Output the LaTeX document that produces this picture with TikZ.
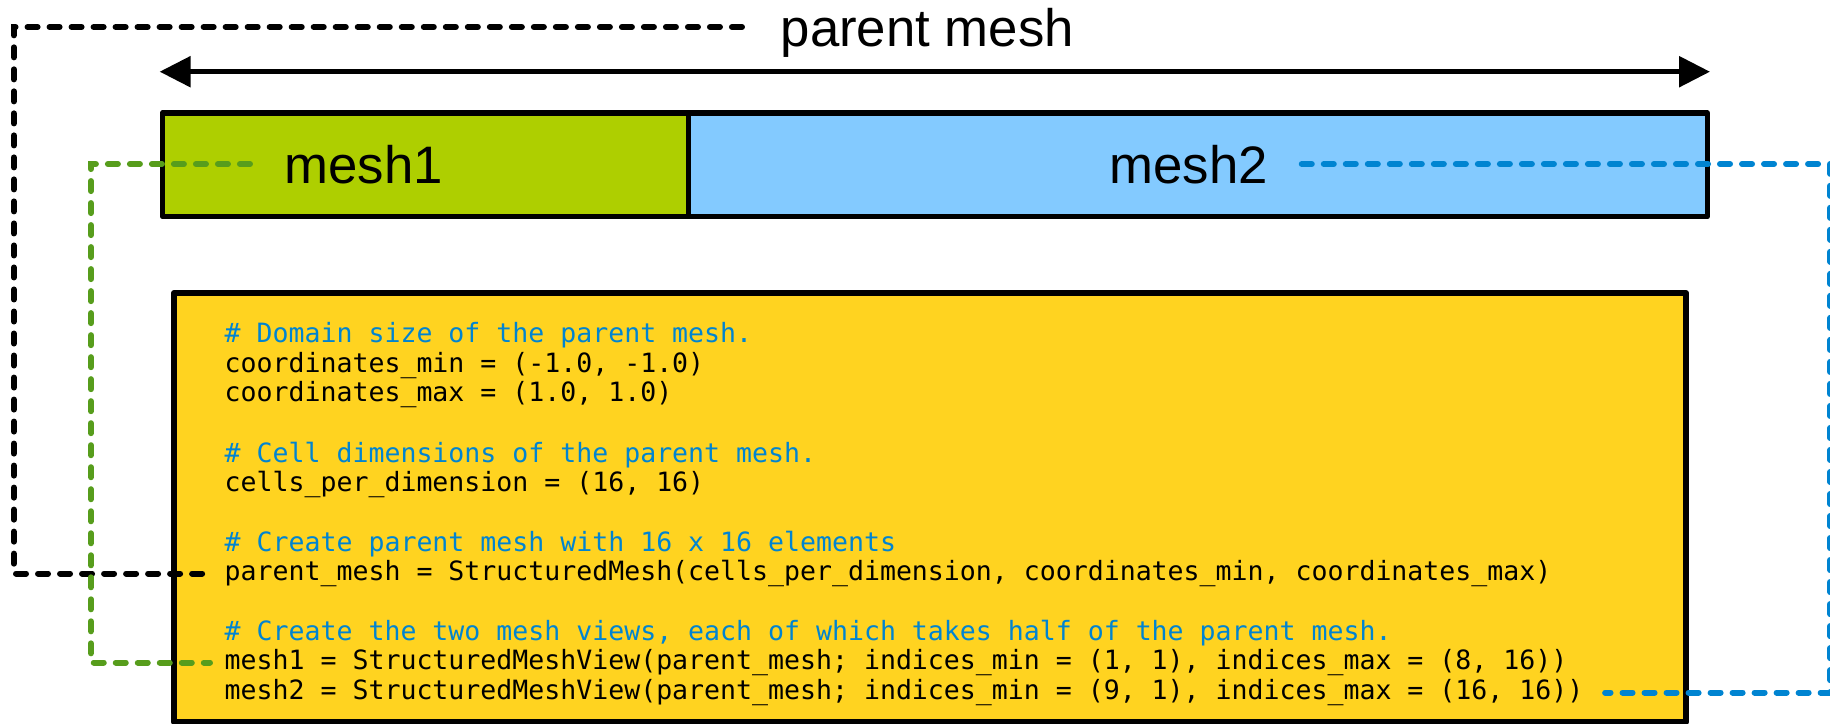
\documentclass[tikz,border=0pt]{standalone}
\usepackage{fontspec}
\setmainfont{Liberation Sans}
\newfontfamily\codefont{DejaVu Sans Mono}
\usetikzlibrary{arrows.meta}
\definecolor{meshgreen}{HTML}{AECF00}
\definecolor{meshblue}{HTML}{83CAFF}
\definecolor{codebg}{HTML}{FFD320}
\definecolor{commentblue}{HTML}{0084D1}
\definecolor{linkgreen}{HTML}{579D1C}
\definecolor{linkblue}{HTML}{0084D1}

\begin{document}
\begin{tikzpicture}[x=0.01cm, y=-0.01cm, >={Triangle[length=0.31cm, width=0.30cm]},
    bar/.style={draw, line width=0.055cm, line join=round, minimum height=1.035cm, inner sep=0pt},
    lbl/.style={font=\fontsize{15}{18}\selectfont, anchor=west, inner sep=0pt,
                text height=0.45cm, text depth=0.07cm},
    codeline/.style={font=\codefont\fontsize{7.55}{9}\selectfont, anchor=base west,
                inner sep=0pt, text height=0.19cm, text depth=0.06cm},
    comment/.style={codeline, text=commentblue},
    link/.style={line width=0.06cm, line cap=round, dash pattern=on 0.10cm off 0.12cm}]

  \useasboundingbox (0,0) rectangle (1830,723);

  % code listing
  \node[bar, fill=codebg, minimum width=15.115cm, minimum height=4.29cm] (code) at (930,507.5) {};
  \node[comment]  (c1)    at (224,342) {\# Domain size of the parent mesh.};
  \node[codeline] (cmin)  at (224,372) {coordinates\_min = (-1.0, -1.0)};
  \node[codeline] (cmax)  at (224,401) {coordinates\_max = (1.0, 1.0)};
  \node[comment]  (c2)    at (224,462) {\# Cell dimensions of the parent mesh.};
  \node[codeline] (cells) at (224,491) {cells\_per\_dimension = (16, 16)};
  \node[comment]  (c3)    at (224,551) {\# Create parent mesh with 16 x 16 elements};
  \node[codeline] (pmesh) at (224,580) {parent\_mesh = StructuredMesh(cells\_per\_dimension, coordinates\_min, coordinates\_max)};
  \node[comment]  (c4)    at (224,640) {\# Create the two mesh views, each of which takes half of the parent mesh.};
  \node[codeline] (view1) at (224,669) {mesh1 = StructuredMeshView(parent\_mesh; indices\_min = (1, 1), indices\_max = (8, 16))};
  \node[codeline] (view2) at (224,699) {mesh2 = StructuredMeshView(parent\_mesh; indices\_min = (9, 1), indices\_max = (16, 16))};

  % parent mesh and its two halves
  \node[bar, fill=meshgreen, minimum width=5.265cm] (mesh1) at (425.75,164.75) {};
  \node[bar, fill=meshblue, minimum width=10.18cm] (mesh2) at (1198,164.75) {};
  \node[lbl] (title)  at (780,27)  {parent mesh};
  \node[lbl] (m1text) at (284,164) {mesh1};
  \node[lbl] (m2text) at (1109,164) {mesh2};

  \draw[<->, line width=0.055cm] ([yshift=0.385cm]mesh1.north west) -- ([yshift=0.385cm]mesh2.north east);

  % links to the code
  \draw[link] ([xshift=-0.38cm]title.west) -| ([xshift=-2.10cm]pmesh.west) -- ([xshift=-0.17cm]pmesh.west);
  \draw[link, linkgreen] ([xshift=-0.34cm]m1text.west) -| ([xshift=-1.33cm]view1.west) -- ([xshift=-0.14cm]view1.west);
  \draw[link, linkblue] ([xshift=0.33cm]m2text.east) -| ([xshift=2.46cm]view2.east) -- ([xshift=0.21cm]view2.east);
\end{tikzpicture}
\end{document}
